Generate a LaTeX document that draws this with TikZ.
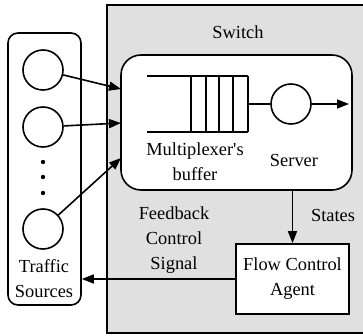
\documentclass[tikz,border=0pt]{standalone}
\usepackage{fontspec}
\setmainfont{Liberation Serif}
\usetikzlibrary{arrows.meta}
\begin{document}
\begin{tikzpicture}[x=0.5pt,y=-0.5pt,line width=0.8pt,font=\fontsize{9.2}{12.5}\selectfont]
        \tikzstyle{source}=[circle,draw,minimum size=20pt,inner sep=0pt]
        \tikzstyle{flow}=[draw,-{Triangle[length=6pt,width=4.5pt]}]
        \tikzstyle{label}=[align=center,inner sep=0pt]
        \useasboundingbox (0,0) rectangle (363,336);
        % switch
        \draw[fill=black!12] (107,5) rectangle (380,333);
        \node [label] (switchlbl) at (238,32) {Switch};
        \node [draw,fill=white,rounded corners=10pt,minimum width=115.5pt,minimum height=67.5pt] (buffer) at (236.5,122.5) {};
        % queue
        \draw (147,76) -- (248,76) (147,132) -- (248,132);
        \foreach \x in {191,206,219,233,248}
          \draw (\x,76) -- (\x,132);
        \node [source] (server) at (291,104) {};
        \coordinate (qend) at (248,104);
        \coordinate (out) at (349,104);
        \draw (qend) -- (server);
        \path[flow] (server) -- (out);
        \node [label] (muxlbl) at (195,162) {Multiplexer\textquotesingle s\\buffer};
        \node [label] (serverlbl) at (294,160) {Server};
        % traffic sources
        \node [draw,fill=white,rounded corners=5pt,minimum width=36.5pt,minimum height=136pt] (traffic) at (44.5,169) {};
        \node [source] (src1) at (43,70) {};
        \node [source] (src2) at (43,127) {};
        \node [source] (src3) at (43,229) {};
        \foreach \y in {162,177,193}
          \fill (43,\y) circle (1.1pt);
        \node [label] (trafficlbl) at (44,279) {Traffic\\Sources};
        \coordinate (in1) at (121,89);
        \coordinate (in2) at (121,123);
        \coordinate (in3) at (121,158);
        \path[flow] (src1) -- (in1);
        \path[flow] (src2) -- (in2);
        \path[flow] (src3) -- (in3);
        % flow control
        \node [draw,fill=white,label,minimum width=56.5pt,minimum height=35pt] (agent) at (292.5,279) {Flow Control\\Agent};
        \path[flow] (agent.north |- buffer.south) -- (agent.north);
        \node [label] (stateslbl) at (333,215) {States};
        \path[flow] (agent.west) -- (agent.west -| traffic.east);
        \node [label] (feedbacklbl) at (174,240) {Feedback\\Control\\Signal};
\end{tikzpicture}
\end{document}
